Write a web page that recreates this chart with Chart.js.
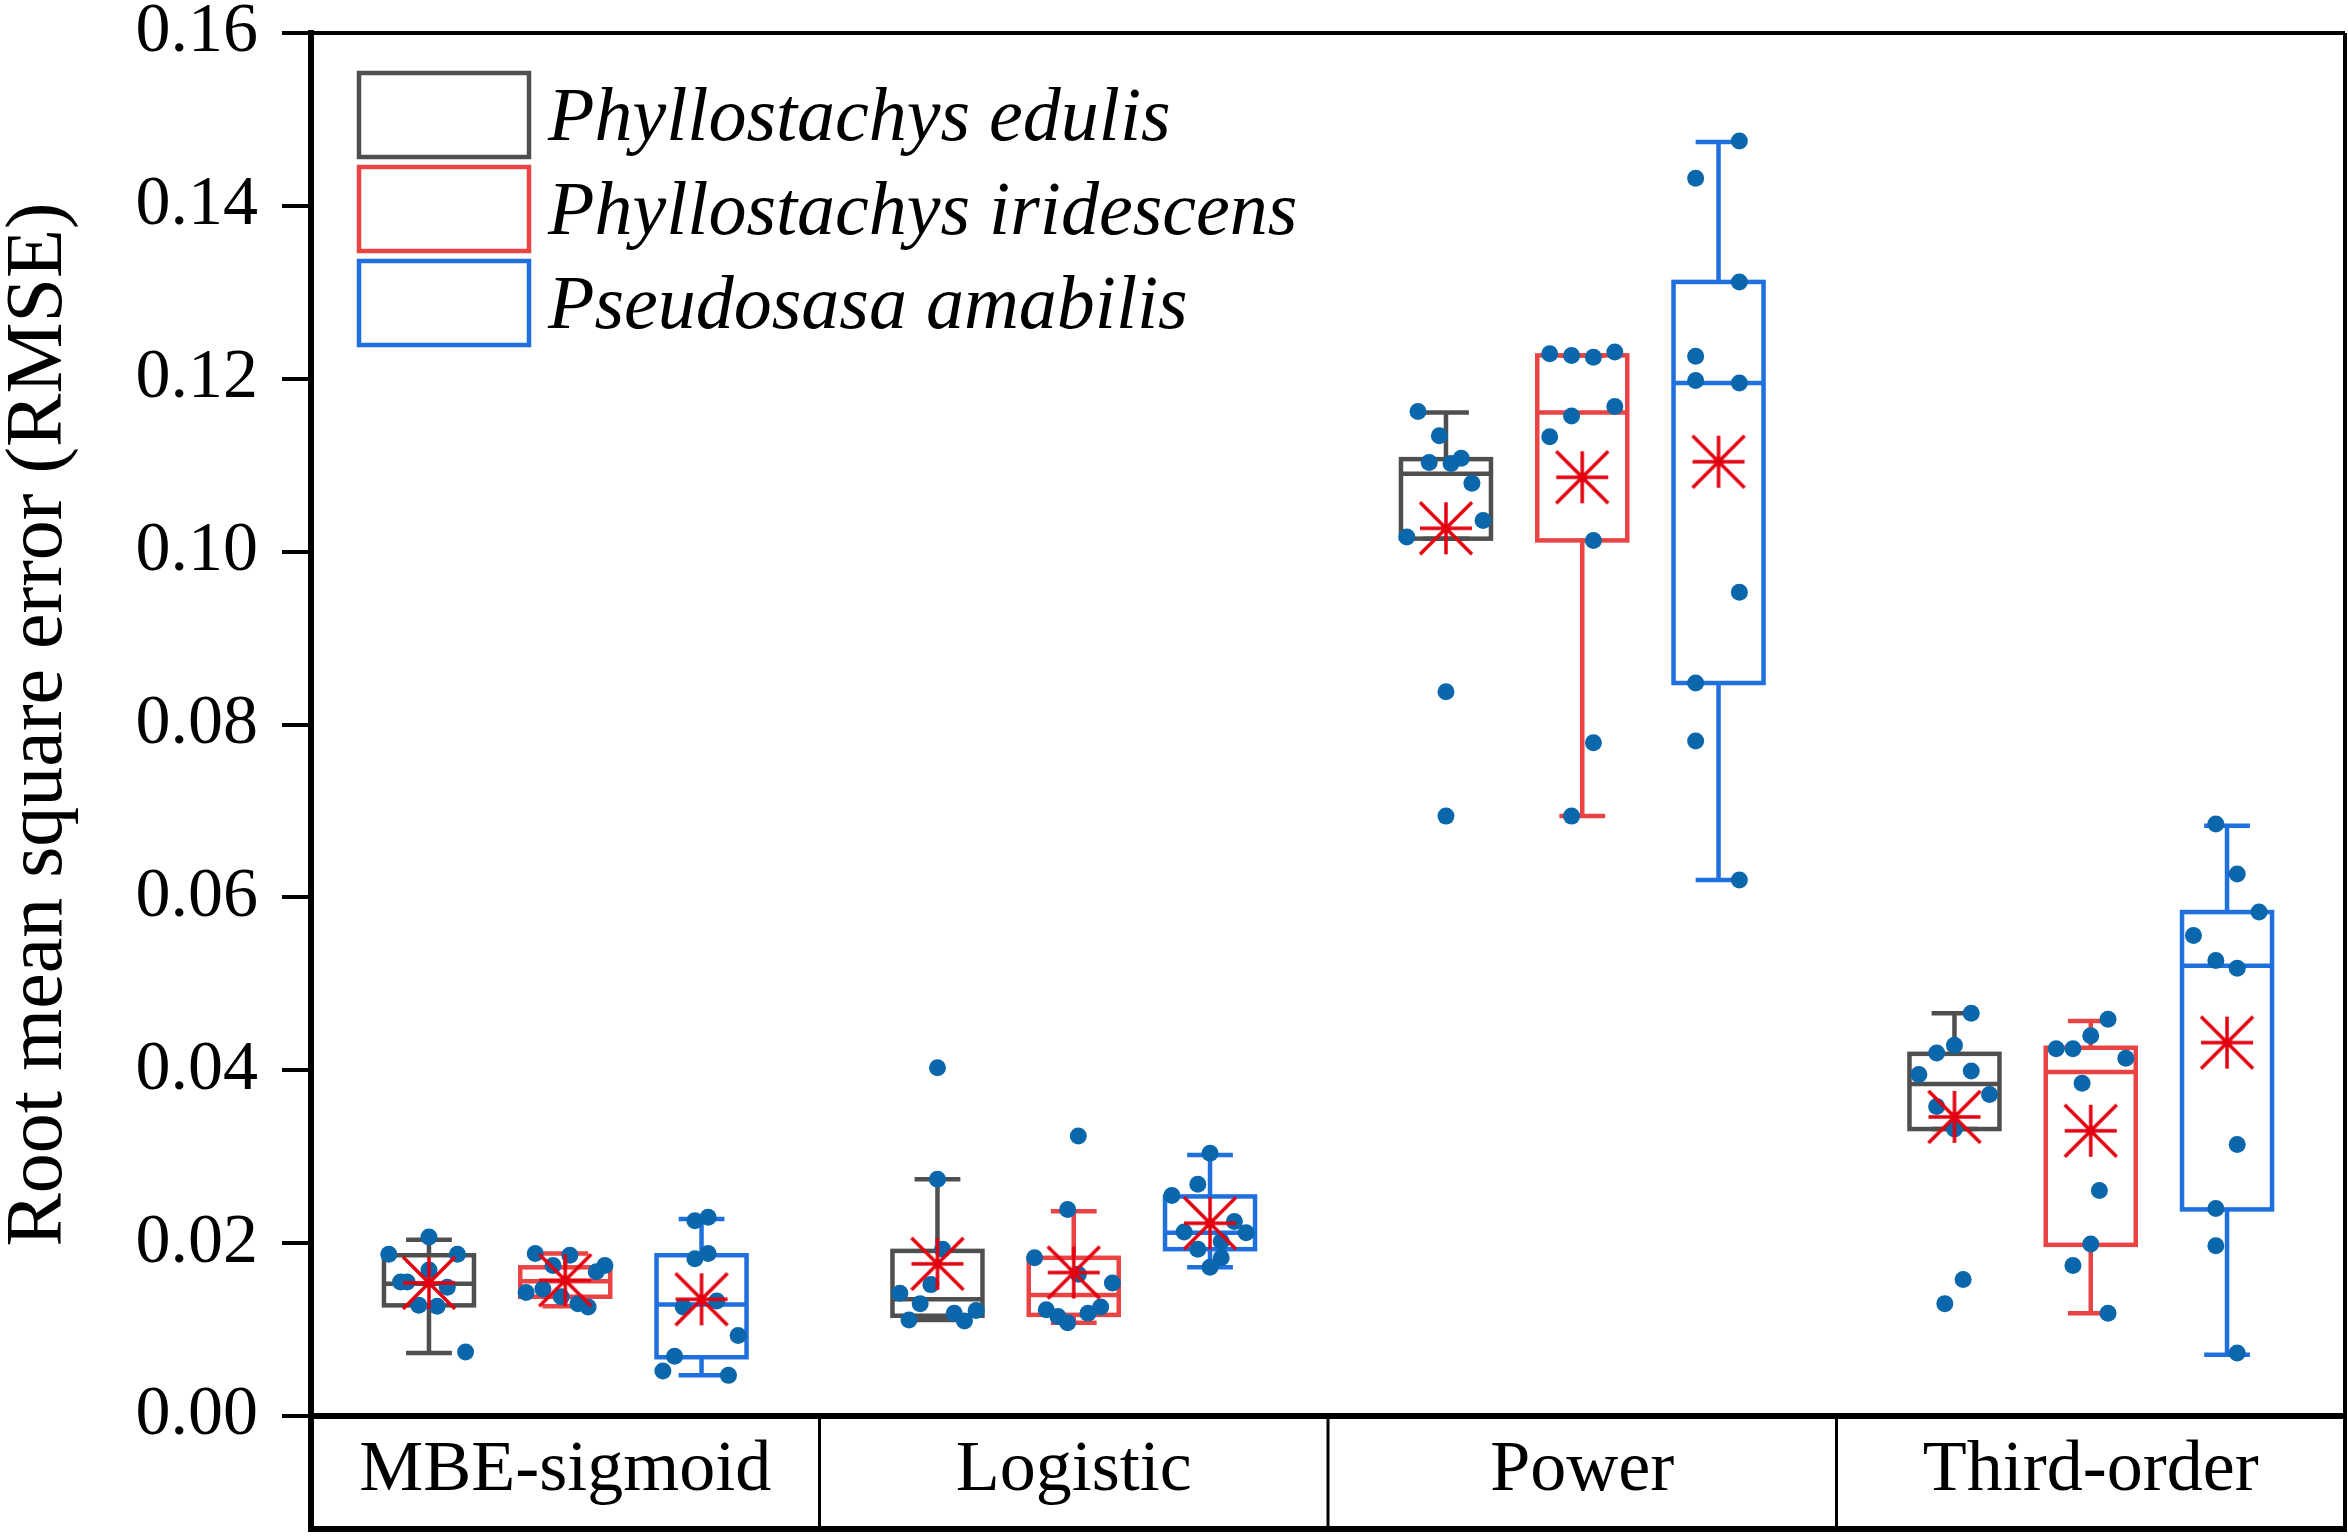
<!DOCTYPE html>
<html>
<head>
<meta charset="utf-8">
<script src="https://cdn.jsdelivr.net/npm/chart.js@4.4.0/dist/chart.umd.min.js"></script>
<style>
  html, body { margin: 0; padding: 0; background: #fff; }
  #wrap { width: 2348px; height: 1538px; }
</style>
</head>
<body>
<div id="wrap"><canvas id="chart" width="2348" height="1538"></canvas></div>
<script>
var models = ['MBE-sigmoid', 'Logistic', 'Power', 'Third-order'];
var species = ['Phyllostachys edulis', 'Phyllostachys iridescens', 'Pseudosasa amabilis'];

// RMSE of every sample, one row per model
var edulisRmse = [
  [0.0207, 0.0187, 0.0187, 0.0155, 0.0155, 0.0169, 0.0149, 0.0128, 0.0127, 0.0074],
  [0.0403, 0.0274, 0.0193, 0.0152, 0.0142, 0.0130, 0.0111, 0.0119, 0.0110, 0.0122],
  [0.1162, 0.1134, 0.1103, 0.1102, 0.1108, 0.1079, 0.1036, 0.1017, 0.0838, 0.0694],
  [0.0466, 0.0429, 0.0420, 0.0395, 0.0399, 0.0372, 0.0358, 0.0332, 0.0158, 0.0130]
];
var iridescensRmse = [
  [0.0188, 0.0186, 0.0174, 0.0174, 0.0167, 0.0143, 0.0147, 0.0138, 0.0130, 0.0126],
  [0.0324, 0.0239, 0.0183, 0.0164, 0.0154, 0.0123, 0.0115, 0.0108, 0.0119, 0.0126],
  [0.1229, 0.1227, 0.1225, 0.1231, 0.1168, 0.1157, 0.1133, 0.1013, 0.0779, 0.0694],
  [0.0459, 0.0440, 0.0425, 0.0425, 0.0414, 0.0385, 0.0261, 0.0199, 0.0174, 0.0119]
];
var amabilisRmse = [
  [0.0226, 0.0230, 0.0182, 0.0188, 0.0126, 0.0133, 0.0093, 0.0069, 0.0052, 0.0047],
  [0.0304, 0.0268, 0.0255, 0.0225, 0.0213, 0.0212, 0.0202, 0.0193, 0.0183, 0.0172],
  [0.1475, 0.1432, 0.1312, 0.1226, 0.1198, 0.1195, 0.0953, 0.0848, 0.0781, 0.0620],
  [0.0685, 0.0627, 0.0583, 0.0556, 0.0527, 0.0518, 0.0314, 0.0240, 0.0197, 0.0073]
];

// horizontal jitter of the dots, in category units
var edulisJitter = [
  [0, -0.079, 0.056, -0.056, -0.043, 0, 0.036, -0.020, 0.016, 0.072],
  [0, 0, 0.010, -0.013, -0.074, -0.034, -0.056, 0.033, 0.053, 0.076],
  [-0.055, -0.013, -0.033, 0.010, 0.030, 0.051, 0.073, -0.077, 0, 0],
  [0.033, 0, -0.035, -0.070, 0.033, 0.069, -0.035, 0, 0.017, -0.019]
];
var iridescensJitter = [
  [-0.059, 0.009, -0.024, 0.078, 0.061, -0.077, -0.044, -0.008, 0.025, 0.045],
  [0.009, -0.012, -0.077, 0.009, 0.076, -0.054, -0.031, -0.012, 0.028, 0.053],
  [-0.064, -0.021, 0.022, 0.064, 0.064, -0.021, -0.064, 0.022, 0.022, -0.021],
  [0.034, 0, -0.068, -0.035, 0.069, -0.017, 0.017, 0, -0.035, 0.034]
];
var amabilisJitter = [
  [-0.013, 0.013, -0.013, 0.013, -0.036, 0.030, 0.072, -0.053, -0.076, 0.053],
  [0, -0.024, -0.075, 0.048, -0.051, 0.071, 0.022, -0.024, 0.022, 0],
  [0.041, -0.045, 0.041, -0.045, -0.045, 0.041, 0.041, -0.045, -0.045, 0.041],
  [-0.022, 0.020, 0.063, -0.066, -0.022, 0.020, 0.020, -0.022, -0.022, 0.020]
];

// box statistics per model: [lower whisker, Q1, median, Q3, upper whisker]
var edulisBox = [
  [0.0073, 0.0128, 0.0153, 0.0186, 0.0204],
  [0.0111, 0.0116, 0.0135, 0.0191, 0.0274],
  [0.1015, 0.1015, 0.1090, 0.1107, 0.1161],
  [0.0332, 0.0332, 0.0384, 0.0419, 0.0466]
];
var iridescensBox = [
  [0.0127, 0.0138, 0.0156, 0.0172, 0.0188],
  [0.0108, 0.0117, 0.0140, 0.0183, 0.0237],
  [0.0694, 0.1013, 0.1161, 0.1227, 0.1227],
  [0.0119, 0.0198, 0.0398, 0.0426, 0.0457]
];
var amabilisBox = [
  [0.0047, 0.0068, 0.0129, 0.0186, 0.0228],
  [0.0172, 0.0193, 0.0212, 0.0254, 0.0302],
  [0.0620, 0.0848, 0.1195, 0.1312, 0.1474],
  [0.0071, 0.0239, 0.0521, 0.0583, 0.0683]
];

var edulisMean = [0.0154, 0.0176, 0.1027, 0.0346];
var iridescensMean = [0.0157, 0.0166, 0.1086, 0.0330];
var amabilisMean = [0.0135, 0.0223, 0.1104, 0.0432];

var rmseBySpecies = [edulisRmse, iridescensRmse, amabilisRmse];
var jitterBySpecies = [edulisJitter, iridescensJitter, amabilisJitter];
var boxBySpecies = [edulisBox, iridescensBox, amabilisBox];
var meanBySpecies = [edulisMean, iridescensMean, amabilisMean];

var boxColors = ['#4f4f4f', '#e94343', '#1f6fdf'];
var dotColor = '#0a67ab';
var meanColor = '#e3000f';
var groupOffset = [-0.268, 0, 0.268];
var boxWidth = 0.177;
var capWidth = 0.09;
var serif = "'Liberation Serif', 'Times New Roman', serif";

// asterisk marker for the mean
var star = document.createElement('canvas');
star.width = 60;
star.height = 60;
(function(){
  var c = star.getContext('2d');
  var r = 26;
  c.strokeStyle = meanColor;
  c.lineWidth = 3.5;
  c.beginPath();
  c.moveTo(30, 30 - r); c.lineTo(30, 30 + r);
  c.moveTo(30 - r, 30); c.lineTo(30 + r, 30);
  c.moveTo(30 - r, 30 - r); c.lineTo(30 + r, 30 + r);
  c.moveTo(30 + r, 30 - r); c.lineTo(30 - r, 30 + r);
  c.stroke();
})();

var datasets = [];
species.forEach(function(name, s){
  datasets.push({
    label: name + ' mean',
    order: 0,
    data: meanBySpecies[s].map(function(v, m){ return {x: m + 0.5 + groupOffset[s], y: v}; }),
    pointStyle: star,
    pointRadius: 26
  });
});
species.forEach(function(name, s){
  var pts = [];
  rmseBySpecies[s].forEach(function(row, m){
    row.forEach(function(v, k){
      pts.push({x: m + 0.5 + groupOffset[s] + jitterBySpecies[s][m][k], y: v});
    });
  });
  datasets.push({
    label: name,
    order: 1,
    data: pts,
    pointRadius: 8.5,
    pointBackgroundColor: dotColor,
    pointBorderWidth: 0
  });
});

var boxPlugin = {
  id: 'boxes',
  beforeDatasetsDraw: function(chart){
    var ctx = chart.ctx;
    var xs = chart.scales.x, ys = chart.scales.y;
    var halfBox = (xs.getPixelForValue(boxWidth) - xs.getPixelForValue(0)) / 2;
    var halfCap = (xs.getPixelForValue(capWidth) - xs.getPixelForValue(0)) / 2;
    ctx.save();
    ctx.lineWidth = 4.5;
    ctx.lineCap = 'butt';
    ctx.lineJoin = 'miter';
    boxBySpecies.forEach(function(rows, s){
      ctx.strokeStyle = boxColors[s];
      rows.forEach(function(b, m){
        var cx = xs.getPixelForValue(m + 0.5 + groupOffset[s]);
        var lo = ys.getPixelForValue(b[0]), q1 = ys.getPixelForValue(b[1]);
        var md = ys.getPixelForValue(b[2]), q3 = ys.getPixelForValue(b[3]);
        var hi = ys.getPixelForValue(b[4]);
        ctx.beginPath();
        ctx.moveTo(cx, q3); ctx.lineTo(cx, hi);
        ctx.moveTo(cx, q1); ctx.lineTo(cx, lo);
        ctx.moveTo(cx - halfCap, hi); ctx.lineTo(cx + halfCap, hi);
        ctx.moveTo(cx - halfCap, lo); ctx.lineTo(cx + halfCap, lo);
        ctx.moveTo(cx - halfBox, md); ctx.lineTo(cx + halfBox, md);
        ctx.stroke();
        ctx.strokeRect(cx - halfBox, q3, 2 * halfBox, q1 - q3);
      });
    });
    ctx.restore();
  }
};

var framePlugin = {
  id: 'frame',
  afterDraw: function(chart){
    var ctx = chart.ctx, a = chart.chartArea, xs = chart.scales.x;
    var bottom = 1529;
    ctx.save();
    ctx.strokeStyle = '#000';
    ctx.lineWidth = 4;
    ctx.beginPath();
    ctx.moveTo(a.left, a.top); ctx.lineTo(a.right, a.top);
    ctx.moveTo(a.right, a.top); ctx.lineTo(a.right, bottom);
    ctx.stroke();
    ctx.lineWidth = 3;
    ctx.beginPath();
    [1, 2, 3].forEach(function(v){
      var px = xs.getPixelForValue(v);
      ctx.moveTo(px, a.bottom); ctx.lineTo(px, bottom);
    });
    ctx.stroke();
    ctx.lineWidth = 6;
    ctx.beginPath();
    ctx.moveTo(a.left, a.bottom); ctx.lineTo(a.left, bottom + 3);
    ctx.moveTo(a.left - 3, bottom); ctx.lineTo(a.right + 2, bottom);
    ctx.stroke();

    // legend
    var bx = a.left + 48, by = a.top + 40, bw = 170, bh = 84, step = 94;
    ctx.font = 'italic 76px ' + serif;
    ctx.textBaseline = 'alphabetic';
    ctx.textAlign = 'left';
    species.forEach(function(name, s){
      var y0 = by + s * step;
      ctx.lineWidth = 4.5;
      ctx.strokeStyle = boxColors[s];
      ctx.strokeRect(bx, y0, bw, bh);
      ctx.fillStyle = '#000';
      ctx.fillText(name, bx + bw + 19, y0 + bh / 2 + 25);
    });
    ctx.restore();
  }
};

new Chart(document.getElementById('chart').getContext('2d'), {
  type: 'scatter',
  data: { datasets: datasets },
  plugins: [boxPlugin, framePlugin],
  options: {
    responsive: false,
    animation: false,
    devicePixelRatio: 1,
    layout: { autoPadding: false, padding: { left: 0, top: 33, right: 3, bottom: 0 } },
    plugins: { legend: { display: false }, tooltip: { enabled: false } },
    scales: {
      x: {
        type: 'linear',
        min: 0,
        max: 4,
        afterBuildTicks: function(axis){
          axis.ticks = [0.5, 1.5, 2.5, 3.5].map(function(v){ return {value: v}; });
        },
        afterFit: function(axis){
          axis.height = 122;
          axis.paddingLeft = 0;
          axis.paddingRight = 0;
        },
        grid: { display: false, drawTicks: false },
        border: { display: true, width: 6, color: '#000' },
        ticks: {
          autoSkip: false,
          maxRotation: 0,
          padding: 12,
          color: '#000',
          font: { family: serif, size: 72 },
          callback: function(v){ return models[Math.floor(v)]; }
        }
      },
      y: {
        min: 0,
        max: 0.16,
        afterFit: function(axis){
          axis.width = 311;
          axis.paddingTop = 0;
          axis.paddingBottom = 0;
        },
        grid: { drawOnChartArea: false, drawTicks: true, tickLength: 29, color: '#000', lineWidth: 4 },
        border: { display: true, width: 6, color: '#000' },
        ticks: {
          stepSize: 0.02,
          padding: 24,
          color: '#000',
          font: { family: serif, size: 70, lineHeight: 0.9 },
          callback: function(v){ return v.toFixed(2); }
        },
        title: {
          display: true,
          text: 'Root mean square error (RMSE)',
          color: '#000',
          padding: { top: 0, bottom: 0 },
          font: { family: serif, size: 80, lineHeight: 1 }
        }
      }
    }
  }
});
</script>
</body>
</html>
